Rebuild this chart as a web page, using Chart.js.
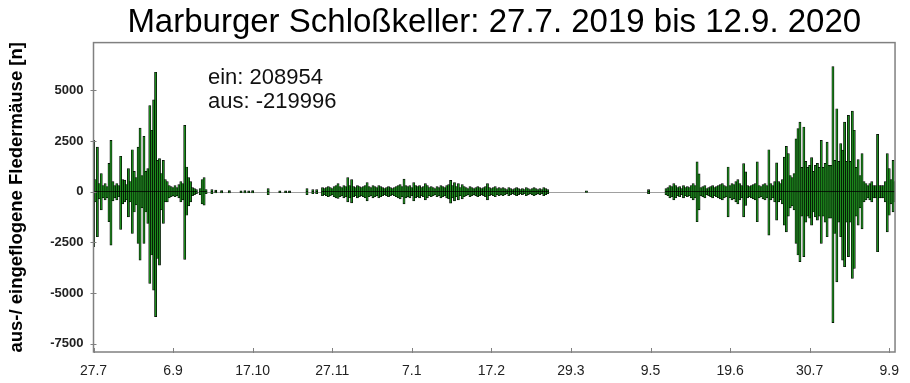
<!DOCTYPE html>
<html><head><meta charset="utf-8">
<script src="https://cdn.jsdelivr.net/npm/chart.js@4.4.1/dist/chart.umd.min.js"></script>
<style>html,body{margin:0;padding:0;background:#fff}</style>
</head><body>
<canvas id="c" width="910" height="383"></canvas>
<script>
const titleText = 'Marburger Schloßkeller: 27.7. 2019 bis 12.9. 2020';
const yAxisTitle = 'aus-/ eingeflogene Fledermäuse [n]';
const xTickDays = [0,41,82,123,164,205,246,287,328,369,410];
const xTickLabels = ['27.7','6.9','17.10','27.11','7.1','17.2','29.3','9.5','19.6','30.7','9.9'];
const yTickValues = [-7500,-5000,-2500,0,2500,5000];
const totalEin = 208954;
const totalAus = -219996;
const dayCount = 414;

const ein = [
2530,600,2200,400,900,300,400,250,1400,2530,
500,300,400,300,1750,600,570,350,1140,500,
2070,1000,700,2200,3140,800,2730,1000,1140,4250,
3030,4530,5890,1550,1630,900,1550,600,500,300,
250,200,300,200,350,500,400,3270,1220,700,
500,200,150,100,0,150,600,700,100,0,
0,100,0,80,0,0,60,0,0,0,
60,0,0,0,0,0,50,0,60,0,
50,0,60,0,0,0,0,0,0,0,
150,0,0,0,0,0,50,0,0,50,
0,50,0,0,0,0,0,0,0,0,
150,0,0,100,0,100,0,0,200,150,
200,250,200,150,250,300,400,250,200,300,
250,700,300,600,250,200,300,250,200,250,
300,450,250,200,300,250,200,300,250,200,
150,200,250,200,150,200,250,300,350,250,
620,300,250,300,200,450,300,250,300,200,
250,400,300,200,250,200,150,250,200,300,
250,200,300,350,560,300,450,250,400,200,
350,250,200,150,250,200,150,200,250,200,
150,200,250,400,200,150,200,250,150,200,
150,200,150,100,200,150,100,150,200,150,
100,150,100,200,150,100,150,200,150,100,
150,100,200,150,100,0,0,0,0,0,
0,0,0,0,0,0,0,0,0,0,
0,0,0,0,40,0,0,0,0,0,
0,0,0,0,0,0,0,0,0,0,
0,0,0,0,0,0,0,0,0,0,
0,0,0,0,0,0,100,0,0,0,
0,0,0,0,0,150,200,300,250,400,
300,200,250,150,300,200,250,200,300,400,
300,1470,880,200,250,300,150,200,250,300,
200,250,300,350,400,300,250,1220,300,400,
350,500,600,400,300,1390,980,300,250,300,
350,400,1470,300,250,350,400,300,2070,400,
300,500,1420,500,400,600,1710,2240,1880,800,
700,900,2610,3110,3430,1200,3190,1500,1200,1300,
1680,1000,1300,1400,1200,2530,1200,1400,2450,1300,
1300,6170,1550,4090,1500,2370,2050,3430,1500,3760,
1500,3970,3030,1200,1580,800,1880,500,400,300,
400,500,300,300,2830,300,300,300,500,1880,
1140,600,1550,500
];

const aus = [
-2710,-500,-2220,-350,-900,-300,-400,-300,-1480,-2630,
-450,-300,-400,-250,-1860,-600,-500,-400,-1240,-500,
-2060,-1000,-650,-2550,-3370,-800,-2550,-1000,-1560,-4520,
-3120,-4850,-6160,-3290,-3620,-900,-1560,-500,-500,-300,
-250,-200,-250,-200,-300,-500,-400,-3340,-1160,-700,
-500,-200,-150,-100,0,-150,-600,-660,-100,0,
0,-100,0,-60,0,0,-60,0,0,0,
-60,0,0,0,0,0,-50,0,-60,0,
-50,0,-60,0,0,0,0,0,0,0,
-150,0,0,0,0,0,-50,0,0,-50,
0,-50,0,0,0,0,0,0,0,0,
-150,0,0,-100,0,-100,0,0,-200,-150,
-200,-250,-200,-150,-250,-300,-330,-250,-200,-300,
-250,-500,-300,-550,-250,-200,-300,-250,-200,-250,
-300,-450,-250,-200,-300,-250,-200,-300,-250,-200,
-150,-200,-250,-200,-150,-200,-250,-300,-350,-250,
-600,-300,-250,-300,-200,-450,-300,-250,-300,-200,
-250,-400,-300,-200,-250,-200,-150,-250,-200,-300,
-250,-200,-300,-350,-560,-300,-450,-250,-400,-200,
-350,-250,-200,-150,-250,-200,-150,-200,-250,-200,
-150,-200,-250,-400,-200,-150,-200,-250,-150,-200,
-150,-200,-150,-100,-200,-150,-100,-150,-200,-150,
-100,-150,-100,-200,-150,-100,-150,-200,-150,-100,
-150,-100,-200,-150,-100,0,0,0,0,0,
0,0,0,0,0,0,0,0,0,0,
0,0,0,0,-40,0,0,0,0,0,
0,0,0,0,0,0,0,0,0,0,
0,0,0,0,0,0,0,0,0,0,
0,0,0,0,0,0,-100,0,0,0,
0,0,0,0,0,-150,-200,-300,-250,-400,
-300,-200,-250,-150,-300,-200,-250,-200,-300,-400,
-300,-1480,-900,-200,-250,-300,-150,-200,-250,-300,
-200,-250,-300,-350,-400,-300,-250,-1240,-300,-400,
-350,-500,-600,-400,-300,-1240,-670,-300,-250,-300,
-350,-400,-1480,-300,-250,-350,-400,-300,-2140,-400,
-300,-500,-1400,-500,-400,-600,-1650,-1980,-1200,-800,
-700,-900,-2550,-3120,-3450,-1200,-3200,-1500,-1200,-1300,
-1650,-1000,-1240,-1400,-1200,-2550,-1200,-1500,-2220,-1300,
-1300,-6450,-2060,-4440,-1500,-2220,-3370,-3700,-1500,-3200,
-1500,-4270,-3780,-1200,-1650,-800,-1830,-500,-400,-300,
-400,-500,-300,-300,-2960,-300,-300,-300,-500,-1980,
-1160,-600,-990,-500
];

const FONT = "'Liberation Sans', Arial, sans-serif";

const decor = {
  id: 'decor',
  afterLayout(chart) {
    const t = chart.titleBlock;
    if (t) { t.left = chart.chartArea.left; t.right = chart.chartArea.right; }
  },
  beforeDatasetsDraw(chart) {
    const {ctx, chartArea: a, scales: {y}} = chart;
    ctx.save();
    ctx.strokeStyle = '#a0a0a0';
    ctx.lineWidth = 1;
    const y0 = Math.round(y.getPixelForValue(0)) + 0.5;
    ctx.beginPath(); ctx.moveTo(a.left, y0); ctx.lineTo(a.right, y0); ctx.stroke();
    ctx.restore();
  },
  afterDatasetsDraw(chart) {
    const {ctx, chartArea: a, scales: {x, y}} = chart;
    ctx.save();
    ctx.strokeStyle = '#808080';
    ctx.lineWidth = 1.5;
    ctx.strokeRect(a.left, a.top, a.right - a.left, a.bottom - a.top);
    ctx.lineWidth = 1;
    ctx.beginPath();
    yTickValues.forEach(v => {
      const py = Math.round(y.getPixelForValue(v)) + 0.5;
      ctx.moveTo(a.left - 3, py); ctx.lineTo(a.left + 3, py);
    });
    xTickDays.forEach(d => {
      const px = Math.round(x.getPixelForValue(d)) + 0.5;
      ctx.moveTo(px, a.bottom - 4); ctx.lineTo(px, a.bottom + 1);
    });
    ctx.stroke();
    ctx.fillStyle = '#111';
    ctx.font = '22px ' + FONT;
    ctx.textBaseline = 'alphabetic';
    ctx.textAlign = 'left';
    ctx.fillText('ein: ' + totalEin, 208, 84);
    ctx.fillText('aus: ' + totalAus, 208, 108);
    ctx.restore();
  }
};

const barStyle = {
  backgroundColor: '#1d8a1d',
  borderColor: '#000000',
  borderWidth: 0.7,
  barThickness: 2.2,
  borderSkipped: false
};

new Chart(document.getElementById('c'), {
  type: 'bar',
  data: {
    datasets: [
      Object.assign({label: 'ein', data: ein.map((v, i) => ({x: i, y: v}))}, barStyle),
      Object.assign({label: 'aus', data: aus.map((v, i) => ({x: i, y: v}))}, barStyle)
    ]
  },
  options: {
    responsive: false,
    animation: false,
    devicePixelRatio: 1,
    layout: {padding: {left: 0, right: 7.5, top: 0, bottom: 0}},
    plugins: {
      legend: {display: false},
      tooltip: {enabled: false},
      title: {
        display: true,
        text: titleText,
        color: '#000',
        font: {family: FONT, size: 33, weight: 'normal'},
        padding: {top: 3, bottom: 0}
      }
    },
    scales: {
      x: {
        type: 'linear',
        stacked: true,
        min: 0,
        max: dayCount - 1,
        offset: false,
        grid: {display: false, drawTicks: false, tickLength: 0},
        border: {display: false},
        afterBuildTicks(scale) { scale.ticks = xTickDays.map(v => ({value: v})); },
        afterFit(scale) { scale.height = 31; },
        ticks: {
          autoSkip: false,
          maxRotation: 0,
          padding: 11,
          color: '#222',
          font: {family: FONT, size: 14},
          callback(v) { const i = xTickDays.indexOf(v); return i >= 0 ? xTickLabels[i] : ''; }
        }
      },
      y: {
        stacked: true,
        min: -7900,
        max: 7350,
        grid: {display: false, drawTicks: false, tickLength: 0},
        border: {display: false},
        afterBuildTicks(scale) { scale.ticks = yTickValues.map(v => ({value: v})); },
        afterFit(scale) { scale.width = 93.5; },
        title: {
          display: true,
          text: yAxisTitle,
          color: '#000',
          font: {family: FONT, size: 18.5, weight: 'bold'},
          padding: {top: 6, bottom: 0}
        },
        ticks: {
          padding: 10,
          color: '#222',
          font: {family: FONT, size: 13, weight: 'bold'},
          callback(v) { return String(v); }
        }
      }
    }
  },
  plugins: [decor]
});
</script>
</body></html>
